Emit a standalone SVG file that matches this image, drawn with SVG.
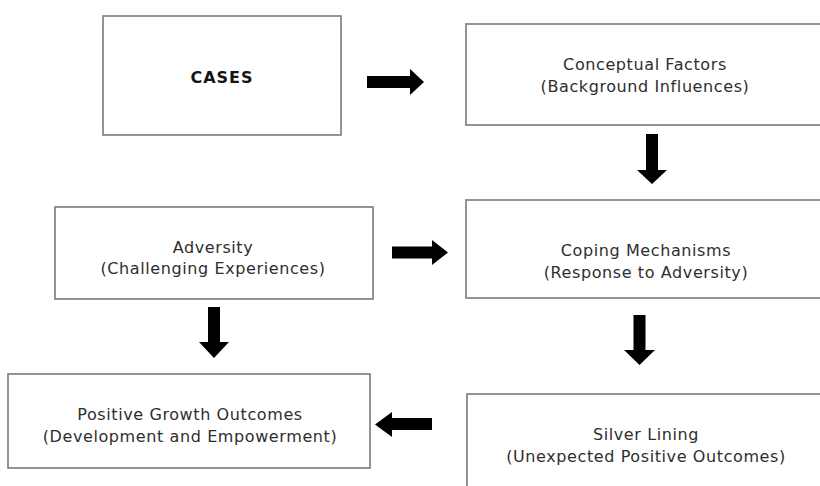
<svg xmlns="http://www.w3.org/2000/svg" width="820" height="486" viewBox="0 0 820 486">
<style>
.box{fill:#fff;stroke:#7a7a7a;stroke-width:1.6}
.t{font-family:"DejaVu Sans",Verdana,sans-serif;font-size:16px;letter-spacing:0.6px;fill:#2e2e2e;text-anchor:middle}
.b{font-family:"DejaVu Sans",Verdana,sans-serif;font-size:16px;letter-spacing:1px;font-weight:bold;fill:#151515;text-anchor:middle}
.arr{fill:#000}
</style>
<rect width="820" height="486" fill="#fff"/>
<g id="cases">
<rect class="box" x="103" y="16" width="238" height="119"/>
<text class="b" x="222" y="83">CASES</text>
</g>
<g id="conceptual">
<rect class="box" x="466" y="24" width="362" height="101"/>
<text class="t" x="645" y="70">Conceptual Factors</text>
<text class="t" x="645" y="92">(Background Influences)</text>
</g>
<g id="adversity">
<rect class="box" x="55" y="207" width="318" height="92"/>
<text class="t" x="213" y="253">Adversity</text>
<text class="t" x="213" y="274">(Challenging Experiences)</text>
</g>
<g id="coping">
<rect class="box" x="466" y="200" width="362" height="98"/>
<text class="t" x="646" y="256">Coping Mechanisms</text>
<text class="t" x="646" y="278">(Response to Adversity)</text>
</g>
<g id="positive">
<rect class="box" x="8" y="374" width="362" height="94"/>
<text class="t" x="190" y="420">Positive Growth Outcomes</text>
<text class="t" x="190" y="442">(Development and Empowerment)</text>
</g>
<g id="silver">
<rect class="box" x="467" y="394" width="361" height="100"/>
<text class="t" x="646" y="440">Silver Lining</text>
<text class="t" x="646" y="462">(Unexpected Positive Outcomes)</text>
</g>
<g id="connectors">
<polygon class="arr" points="367,76 410,76 410,69 424,82 410,95 410,88 367,88"/>
<polygon class="arr" points="392,246.5 432,246.5 432,240 448,252.5 432,265 432,258.5 392,258.5"/>
<polygon class="arr" points="646,134 658,134 658,170 667,170 652,184 637,170 646,170"/>
<polygon class="arr" points="208,307 220,307 220,342 229,342 214,358 199,342 208,342"/>
<polygon class="arr" points="633.5,315 645.5,315 645.5,350 655,350 639.5,365 624,350 633.5,350"/>
<polygon class="arr" points="432,418 392,418 392,412 375,424.5 392,437 392,430 432,430"/>
</g>
</svg>
